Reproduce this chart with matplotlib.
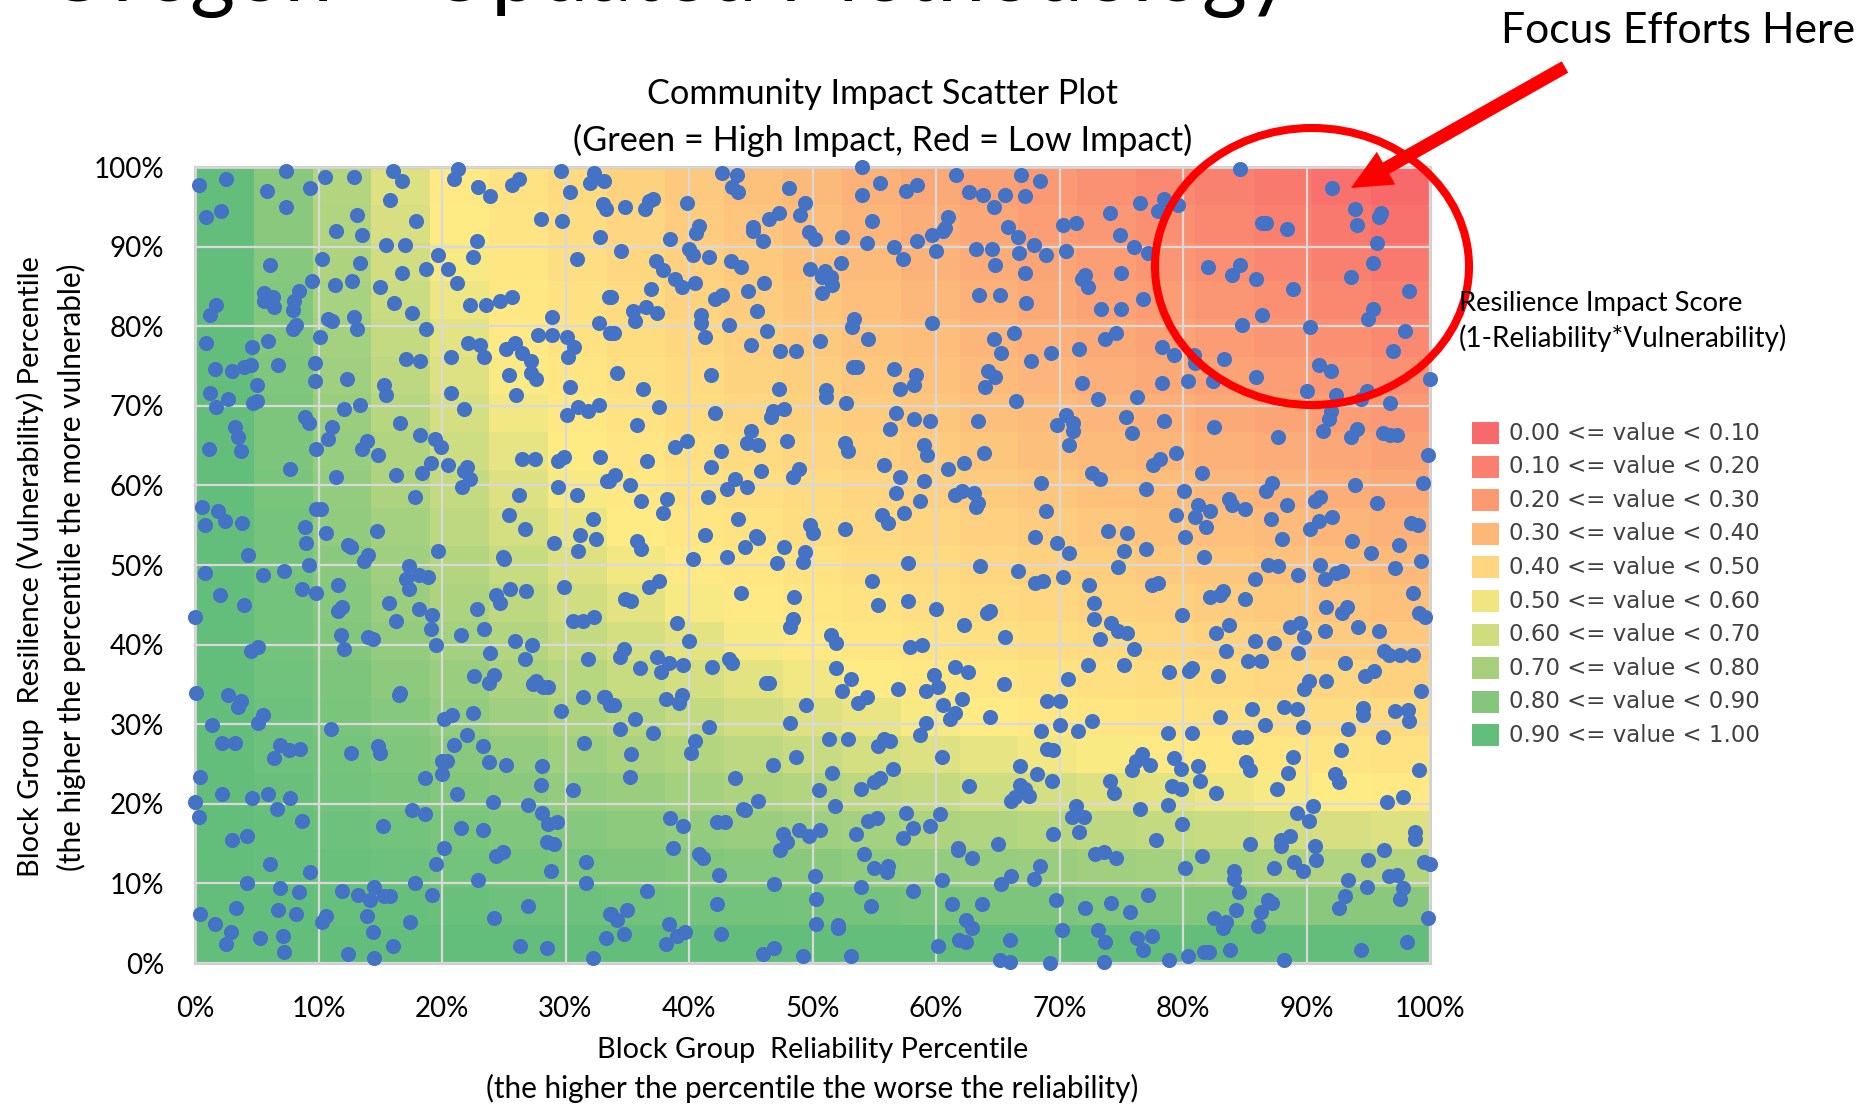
from matplotlib import pyplot as plt
from matplotlib.colors import LinearSegmentedColormap
from matplotlib.patches import Ellipse, Rectangle
from matplotlib.ticker import PercentFormatter
import numpy as np

plt.rcParams['font.family'] = ['Lato', 'DejaVu Sans']

# (reliability %, vulnerability %), by part of the plot
top_left = [
    (.3,97.8),(2.5,98.5),(7.4,99.5),(5.8,97),(9.3,97.3),(10.5,98.8),(12.9,98.8),(16,99.5),(16.8,98.3),(21.3,99.8),
    (21,98.5),(22.9,97.5),(23.9,96.3),(26.2,98.5),(25.7,97.8),(29.6,99.5),(32.3,99.3),(32,98),(33.1,98.3),(30.4,96.8),
    (33,95.3),(33.3,94.7),(.9,93.7),(2.1,94.5),(7.4,95),(15.8,95.8),(13.1,94),(17.9,93.2),(11.4,92),(13.5,91.5),
    (15.5,90.2),(17,90.2),(22.8,90.7),(28,93.5),(29.7,93.2),(32.8,91.2),(6.1,87.7),(10.3,88.4),(13.4,88),(19.7,88.9),
    (22.5,88.7),(30.9,88.4),(18.7,87.2),(20.5,87.2),(16.8,86.7),(9.5,85.7),(12.7,85.7),(11.3,85.2),(15,84.9),(21.2,85.4),
    (8.4,84.4),(5.6,84.2),(6.3,83.7),(8,83.2),(5.6,83.2),(6.4,82.4),(7.9,82),(1.7,82.7),(1.2,81.4),(16.1,82.9),
    (17.6,81.7),(22.3,82.7),(23.6,82.7),(24.7,83.2),(25.7,83.7),(33.5,83.7),(28.9,81.2),(32.7,80.4),(10.8,80.9),(11.1,80.7),
    (12.9,81.2),(13.1,79.7),(8.2,80.2),(7.9,79.7),(18.7,79.7),(10.1,78.7),(.9,77.9),(5.9,78.2),(4.6,77.4),(22.1,77.9),
    (23.1,77.6),(23.4,76.1),(20.7,76.1),(25.2,77.1),(25.9,77.9),(26.5,76.6),(27.2,75.6),(27.8,78.9),(28.9,78.9),(30.1,78.7),
    (30.7,77.4),(30.2,76.1),(33.6,79.2),(17.1,75.9),(18.2,75.6),(6.7,75.1),(9.7,75.4),(1.6,74.6),(3,74.4),(4,74.9),
    (4.5,75.1),(9.7,73.1),(12.3,73.4),(5,72.6),(15.3,72.6),(15.5,71.4),(25.4,73.9),(27.2,74.1),(27.6,73.4),(30.4,72.4),
    (20.7,71.6),(26,71.4),(1.2,71.6),(2.7,70.9),(5,70.6),(4.7,70.3),(1.7,69.9),(13.4,70.1),(12.1,69.6),(21.8,69.6),
    (31,69.9),(31.8,69.4),(32.7,70.1),(30.1,68.9),(8.9,68.6),(9.2,67.8),(3.2,67.3),(11.1,67.3),(16.6,67.8),(3.5,66.1),
    (18.2,66.3),(19.4,65.8),(10.8,65.8),(19.9,64.8),(13.9,65.6),(13.5,64.6),(9.8,64.6),(1.1,64.6),(3.7,64.3),(14.8,63.8),
    (19.1,62.8),(20.5,62.6),(18.4,61.6),(22,62.3),(21.8,61.8),(22.3,60.8),(21.6,59.8),(16.3,61.3),(11.4,61.1),(7.7,62.1),
    (26.5,63.3),(27.5,63.3),(29.4,63.1),(29.9,63.6),(32.8,63.6),(33.4,60.6),(29.4,59.8),(30.9,58.8),(26.2,58.8),(17.8,58.5),
    (.6,57.3),(1.9,56.8),(2.4,55.5),(.8,55),(3.8,55.3),(9.8,57),(10.2,57),(8.9,54.8),(10.6,54),(14.7,54.3),
    (9,52.8),(12.4,52.5),(12.6,52.3),(25.4,56.3),(26.7,54.5),(32.2,55.8),(31.2,53.8),(32.5,53.3),(29.1,52.8),(31,51.8),
    (19.7,51.8),(24.9,51),(25,50.8),(4.3,51.3),(14,51.3),(13.7,50.5),(9.2,50),(17.3,49.9),
]
bottom_left = [
    (.8,49),(5.5,48.7),(7.2,49.2),(17.1,48.2),(18.1,48.7),(18.9,48.5),(17.3,47),(8.7,47),(9.8,46.5),(11.6,47.5),
    (2,46.2),(4,45),(11.9,44.7),(11.6,44.2),(15.7,45.2),(18.1,44.5),(19.2,43.7),(16.3,43),(0,43.5),(24.4,46.2),
    (24.7,45.2),(25.5,47),(26.8,46.7),(29.9,47.2),(22.8,44.5),(23.4,42),(19.1,42),(21.5,41.2),(30.6,43),(31.4,43),
    (32.3,43.5),(11.8,41.2),(14,41),(14.4,40.7),(12.1,39.5),(5.1,39.7),(4.5,39.2),(19.5,40),(25.9,40.5),(27.3,40),
    (26.7,38.2),(23.9,39),(31.8,38.2),(22.6,36),(24.2,36.2),(23.8,35.2),(27.6,35.4),(27.4,35),(28.2,34.7),(28.6,34.7),
    (31.4,33.4),(33.1,33.4),(33.6,32.4),(.1,33.9),(2.7,33.7),(3.7,32.9),(3.5,32.2),(5.5,31.2),(5.1,30.2),(1.4,29.9),
    (16.6,33.9),(16.5,33.7),(20.8,31.2),(20.2,30.7),(22.5,31.4),(29.6,31.7),(11,29.4),(22,28.7),(21,27.4),(23.3,27.2),
    (31.5,27.7),(2.2,27.7),(3.2,27.7),(6.9,27.4),(7.6,26.7),(8.5,26.9),(6.4,25.7),(12.6,26.4),(14.8,27.2),(15,26.4),
    (20,25.4),(20.4,25.4),(23.8,25.2),(25.2,24.9),(28.1,24.7),(.4,23.4),(18.6,23.2),(20,23.7),(28,22.4),(30.6,21.7),
    (2.2,21.2),(4.6,20.7),(5.9,21.2),(7.7,20.7),(0,20.2),(6.6,19.4),(.3,18.4),(8.7,17.9),(21.2,21.2),(24.1,20.2),
    (27,19.9),(17.6,19.2),(18.6,18.7),(28.1,18.9),(29.3,17.7),(28.6,17.4),(15.2,17.2),(21.5,16.9),(23.3,16.7),(4.2,15.9),
    (3,15.4),(20.2,14.4),(28.5,15.2),(29.1,14.9),(24.9,13.9),(24.4,13.4),(6.1,12.4),(19.5,12.4),(31.7,12.7),(28.8,11.6),
    (9.3,11.4),(4.2,10.1),(17.8,10.1),(22.9,10.4),(31.7,10.1),(6.9,9.4),(8.4,8.9),(11.9,9.1),(13.2,8.6),(14.5,9.6),
    (14.2,7.9),(15.3,8.4),(15.8,8.4),(19.2,8.6),(3.3,6.9),(6.7,6.6),(8.2,6.1),(.4,6.1),(1.6,4.9),(10.6,5.9),
    (10.3,5.1),(13.9,5.9),(17.4,5.1),(24.2,5.6),(27,7.1),(33.6,6.1),(2.9,3.9),(2.5,2.4),(5.3,3.1),(7.1,3.4),
    (7.2,1.4),(14.4,3.9),(16,2.1),(12.4,1.1),(14.5,.6),(26.3,2.1),(28.5,1.9),(32.2,.6),(33.3,3.1),
]
top_mid = [
    (42.7,99.3),(43.9,99),(54,100),(55.5,98),(61.6,99),(66.9,99),(43.5,97.5),(44,96.8),(48.1,97.3),(58.5,97.8),
    (57.6,97),(54,96.5),(62.7,96.8),(63.8,96.5),(65.6,96.5),(64.7,95),(37.1,96),(36.8,95.7),(36.4,94.7),(34.8,95),
    (39.8,95.5),(49.4,95.5),(49,94),(47.3,94.2),(46.5,93.5),(61,93.7),(60.7,92.3),(60.6,92),(54.8,93.2),(40.8,92.6),
    (40.6,91.7),(45.2,92.4),(45.2,92),(38.5,91),(49.7,91.8),(50.2,91),(46,90.7),(52.4,91.2),(54.4,90.5),(58.5,90.7),
    (59.7,91.5),(56.6,90),(60,89.5),(65.8,92.5),(66.6,91.2),(63.2,89.7),(64.5,89.7),(66.7,89.2),(64.8,87.7),(67.2,86.7),
    (34.5,89.5),(40,89.7),(40.3,88.9),(41.6,88.7),(37.3,88.2),(37.9,87),(43.4,88.2),(44.2,87.5),(57.3,88.5),(52.3,88),
    (49.8,87.2),(51,86.9),(51.5,86.2),(50.8,86.2),(51.6,85.2),(50.8,84.2),(38.9,85.9),(39.4,84.9),(40.5,85.4),(46.1,85.4),
    (44.8,84.4),(36.9,84.7),(42.7,83.9),(42.1,83.4),(33.7,83.7),(63.5,83.9),(65.2,83.9),(67.3,82.9),(36.5,82.4),(35.5,81.9),
    (37.4,81.7),(45.5,81.9),(41,81.4),(41,80.4),(35.6,80.7),(43.2,80.2),(53.4,80.9),(53.2,79.9),(59.7,80.4),(33.9,79.2),
    (46.3,79.4),(41.3,78.7),(50.6,78.1),(54.5,78.4),(66.3,79.2),(64.7,78.4),(45,77.6),(47.4,76.9),(48.7,76.9),(65.3,76.6),
    (53.3,74.9),(53.6,74.9),(56.6,74.6),(58.4,73.9),(58.2,72.6),(57.1,72.1),(34.2,74.1),(41.8,73.9),(64.2,74.4),(64.8,73.6),
    (64,72.4),(36.3,72.1),(47.3,72.1),(51.1,72),(51.1,71.1),(52.7,70.4),(66.5,70.6),(37.6,69.9),(47.7,69.6),(46.8,69.3),
    (46.6,68.6),(42.1,69.1),(56.8,69.1),(58.2,68.3),(59.5,68.1),(56.3,67.1),(63.4,68.1),(35.8,67.6),(45,66.8),(44.7,65.3),
    (45.6,65.1),(47.9,65.6),(52.6,65.3),(52.9,64.3),(59,65.1),(59.3,63.8),(63.9,64.1),(39.8,65.6),(38.9,64.8),(42.6,64.3),
    (36.6,63.1),(41.8,62.3),(45.8,61.8),(48.9,62.1),(48.4,61.1),(55.8,62.6),(62.3,62.8),(61,62.1),(57.1,61.1),(59,60.6),
    (34,61.3),(33.5,60.6),(35.2,60),(43.7,60.8),(43.1,59.6),(44.7,59.8),(56.8,59),(62.1,59.3),(61.5,58.8),(63.1,59),
    (63.4,57.8),(63.2,57.3),(58.7,58),(36.1,58),(38.2,58.3),(41.5,58.5),(37.9,56.5),(55.6,56.3),(57.4,56.5),(56.1,55.3),
    (44,55.8),(49.8,55),(50,54),(52.6,54.5),(41.3,53.8),(35.8,53),(36.1,52),(45.4,53.6),(45.6,53.4),(44.5,52.3),
    (47.7,52.3),(49.4,51.6),(40.3,50.8),(43.1,51),(47.1,50.3),(49.2,50.4),(57.7,50.3),(63.6,49.9),(66.6,49.3),
]
bottom_mid = [
    (54.8,48),(37.6,48),(36.8,47.2),(44.2,46.5),(34.8,45.7),(35.3,45.5),(48.5,46),(55.3,45),(57.7,45.5),(60,44.5),
    (64.4,44.2),(64.1,44),(62.3,42.5),(48.4,43.2),(48.2,42.2),(39,42.7),(51.5,41.2),(51.9,40.2),(65.6,41),(40,40.5),
    (57.9,39.7),(58.9,40),(34.7,39.5),(34.4,38.5),(37.4,38.5),(38.4,37.7),(39.5,37.5),(37.7,36.5),(36,37),(41.9,37.2),
    (43.2,38.2),(43.5,37.7),(51.9,37),(61.5,37.2),(62.6,36.5),(59.8,36.2),(53.1,35.7),(46.2,35.2),(46.5,35.2),(65.5,35),
    (60.2,34.7),(59.2,34.2),(56.9,34.4),(52.4,34.2),(54.4,33.4),(53.7,32.7),(62.1,33.2),(60.6,32.4),(39.4,33.7),(39.2,32.7),
    (38.1,33.2),(33.2,33.4),(33.9,32.4),(49.5,32.4),(61.5,31.4),(61.1,30.7),(64.4,30.9),(35.6,30.7),(59.2,30.2),(34.4,29.4),
    (37.1,28.9),(41.6,29.7),(48.2,30.2),(40.5,27.9),(40.2,26.4),(51.3,28.2),(52.9,28.2),(55.8,28.2),(56.3,27.9),(55.3,27.2),
    (58.7,28.7),(35.3,26.2),(48.7,25.9),(46.8,24.9),(60.5,25.9),(66.8,24.7),(56.5,24.4),(51.6,23.9),(55.5,23.2),(55,22.7),
    (35.2,23.4),(43.7,23.2),(50.5,21.7),(53.9,21.9),(62.7,22.2),(66.8,22.4),(66.4,20.8),(66.1,20.4),(45.6,20.4),(44.4,19.4),
    (44.5,19.2),(51.8,19.7),(57.6,18.9),(60.3,18.7),(38.5,18.2),(39.5,17.2),(42.3,17.7),(42.9,17.7),(55.2,18.2),(54.5,17.9),
    (58.1,16.9),(59.5,17.2),(48.9,16.7),(50.6,16.7),(49.7,15.9),(47.6,16.2),(47.9,15.2),(53.5,16.2),(57.3,15.7),(47.4,14.2),
    (38.7,14.4),(40.8,13.7),(41.1,13.2),(54.2,13.7),(65,14.9),(61.8,14.4),(61.8,14.2),(62.9,13.2),(56.1,12.2),(55,11.9),
    (56,11.4),(42.4,11.1),(50.2,10.9),(66.1,10.9),(65.3,9.9),(46.9,9.9),(60.5,10.4),(53.9,9.6),(58.1,9.1),(36.6,9.1),
    (50.3,8.1),(42.3,7.4),(54.7,7.1),(61.3,7.4),(63.7,7.4),(35,6.6),(33.7,6.1),(34.2,5.4),(38.4,4.9),(50.3,4.9),
    (52.1,4.8),(52.1,4.4),(62.4,5.4),(62.9,4.4),(39.7,3.9),(39,3.4),(42.6,3.6),(34.7,3.6),(61.9,2.9),(62.4,2.6),
    (66,2.9),(38.1,2.4),(60.2,2.1),(46.9,1.9),(46,1.1),(49.2,.9),(53.1,.9),(65.2,.4),(66,.1),
]
top_right = [
    (68.4,98.3),(67.2,96.3),(76.5,95.5),(74.1,94.2),(70.3,92.7),(71.3,93),(78.5,96),(79.6,95.2),(78,94.5),(84.6,99.8),
    (92.1,97.3),(93.9,94.7),(96,94.2),(95.9,93.7),(94.1,92.7),(86.4,93),(86.7,93),(88.4,92.2),(74.9,91.5),(67.9,90.2),
    (76,90),(68.9,89),(70.5,89.5),(77.2,89.2),(95.7,90.5),(82,87.5),(84.6,87.7),(84,86.4),(85.9,85.9),(95.4,88),
    (93.6,86.2),(88.9,84.7),(72.1,86.4),(71.8,85.9),(72.3,84.9),(75,86.7),(76.8,83.4),(73.4,82.2),(75,82.2),(98.3,84.4),
    (95.4,82.2),(95,80.9),(86.4,81.4),(84.8,80.2),(90.3,79.9),(98,79.4),(74.6,79.2),(73.7,78.4),(71.6,77.1),(69.3,76.6),
    (67.7,75.6),(78.3,77.4),(79.3,76.4),(80.9,76.4),(81,75.4),(83.3,75.9),(97,76.9),(91,75.1),(92,74.4),(71.8,72.9),
    (78.3,72.9),(80.4,73.1),(82.4,73.1),(85.9,73.6),(100,73.4),(90,71.9),(73.1,70.9),(76.3,71.1),(92.4,71.4),(94.9,71.9),
    (94.4,70.9),(96.8,70.4),(70.5,68.9),(69.8,67.6),(71.1,67.9),(71.1,66.8),(70.8,65.1),(75.4,68.6),(75.9,66.6),(78.5,68.1),
    (82.5,67.3),(87.7,66.1),(92,69.4),(91.8,68.3),(91.3,66.8),(94.1,67.1),(93.6,66.1),(96.2,66.6),(96.8,66.3),(97.3,66.3),
    (99.8,63.8),(79.4,64.1),(78.1,63.3),(77.6,62.6),(72.6,61.6),(73.3,60.8),(81.5,61.6),(68.5,60.3),(77,59.6),(80.1,59.3),
    (87.2,60.3),(86.7,59.3),(93.9,60.1),(99.4,60.3),(83.7,58.3),(84,57.5),(85,57),(81.2,57.5),(82.2,56.8),(79.4,56.3),
    (81,56),(81.9,54.8),(68.9,56.8),(88.4,57.5),(91.1,58.5),(90.7,58),(95.7,57.8),(87.1,55.8),(92.1,56),(91,55.5),
    (90.3,54.5),(98.5,55.3),(99,55),(68,53.5),(69.8,52.8),(70.8,51.5),(73.9,54.3),(75.5,54),(75.2,51.8),(77,52),
    (80.2,53.5),(81.7,51),(88,53.3),(93.7,53),(97.5,52.5),(95.2,51.5),(99.3,50.5),(74.7,49.8),(86.9,50),(87.7,49.9),
    (91.1,50),(97.2,49.6),
]
bottom_right = [
    (89.3,48.7),(92.4,49),(92.9,49.2),(91.5,48.2),(68,47.7),(68.7,48),(70.3,48.5),(72.4,47.5),(77.5,47.5),(78,47.7),
    (85.8,48.2),(98.6,46.5),(83.2,46.7),(83,46.2),(82.2,46),(85,45.7),(72.8,45.2),(91.6,44.7),(93.3,44.7),(92.9,44),
    (72.8,43.2),(74.2,42.7),(79.9,43.7),(99.1,44),(99.6,43.5),(83.7,42.5),(82.7,41.5),(88.7,42.2),(89.5,42.7),(91.5,41.7),
    (94.2,42.2),(95.9,41.7),(74.7,41.7),(75.5,41.5),(89.8,41),(73.3,40.7),(85.8,40.5),(87.4,40.2),(76,39.5),(83.5,39.2),
    (89.3,39),(96.3,39.2),(96.7,38.7),(97.6,38.7),(98.6,38.7),(85.3,38),(86.3,38),(93.1,37.7),(72.3,37.5),(75.2,37.5),
    (80.7,37),(80.5,36.7),(78.9,36.5),(82.8,36),(95.5,36.7),(94.7,36),(70.7,35.7),(90.2,35.4),(91.6,35.4),(89.8,34.4),
    (99.3,34.2),(69,32.9),(70,32.9),(85.6,31.9),(88.2,32.2),(89.2,31.9),(94.6,32),(94.6,31.2),(97.2,31.7),(98.2,31.8),
    (98.3,30.4),(83,30.9),(72.6,30.4),(70,29.9),(86.6,29.9),(89.7,29.7),(68.5,29.2),(71.5,29.2),(78.8,28.9),(80.7,28.9),
    (93.4,29.4),(84.5,28.4),(85.1,28.4),(96.2,28.4),(69,26.9),(69.5,26.7),(92.8,26.7),(88.9,25.9),(76.7,26.2),(76.2,25.4),
    (79.3,25.7),(77.3,24.9),(79.8,24.4),(75.9,24.2),(81.2,24.7),(85.1,25.3),(85.4,24.2),(68.2,23.7),(69.4,22.9),(88.5,23.9),
    (92.3,23.7),(92.6,22.7),(99.1,24.2),(74.1,22.9),(81.4,22.9),(67.2,21.8),(67.5,21),(74.4,21.4),(79.1,22.2),(79.8,21.9),
    (82.7,21.4),(87.6,21.9),(97.8,20.9),(96.5,20.2),(78.8,19.9),(71.3,19.7),(90.5,19.7),(76.5,19.4),(89.2,18.9),(71,18.4),
    (72,18.4),(90.2,17.9),(79.9,17.4),(69.5,16.2),(71.6,16.4),(98.8,16.5),(98.8,15.6),(87.9,15.4),(88.7,15.9),(87.9,14.7),
    (77.8,15.4),(85.4,14.9),(90.7,14.7),(96.3,14.2),(72.9,13.7),(73.6,13.9),(74.6,13.2),(81.5,13.4),(90.8,12.9),(89,12.7),
    (95,12.9),(99.5,12.7),(100,12.4),(68.4,12.2),(80.2,11.9),(87.4,11.9),(89.7,11.6),(84.1,11.5),(84.1,10.6),(97.3,11.1),
    (96.7,10.9),(67.9,10.6),(93.4,10.4),(94.9,9.6),(97.8,9.4),(84.5,8.9),(77.2,8.6),(69.7,7.9),(93.1,8.4),(97.6,8.1),
    (86.9,7.9),(87.2,7.6),(74.2,7.6),(72.1,6.9),(92.6,6.9),(84.3,6.6),(75.7,6.4),(86.3,6.4),(82.5,5.6),(83.5,5.1),
    (99.8,5.6),(86.1,4.6),(83.2,4.4),(70.2,4.1),(73.1,4.1),(77.5,3.4),(76.3,3.1),(73.7,2.6),(98.1,2.6),(76.8,1.6),
    (94.4,1.6),(83.8,1.6),(81.7,1.4),(82.1,1.4),(80.4,.9),(78.9,.4),(88.2,.4),(69.2,0),(73.6,.1),
]

# background score per cell, bottom row first
score_rows = [
    [1]*21,
    [1,.998,.995,.993,.99,.988,.985,.983,.98,.978,.975,.973,.97,.968,.965,.963,.96,.958,.955,.953,.95],
    [1,.995,.99,.985,.98,.975,.97,.965,.96,.955,.95,.945,.94,.935,.93,.925,.92,.915,.91,.905,.9],
    [1,.993,.985,.978,.97,.963,.955,.948,.94,.933,.925,.918,.91,.903,.895,.888,.88,.873,.865,.858,.85],
    [1,.99,.98,.97,.96,.95,.94,.93,.92,.91,.9,.89,.88,.87,.86,.85,.84,.83,.82,.81,.8],
    [1,.988,.975,.963,.95,.938,.925,.913,.9,.888,.875,.863,.85,.838,.825,.813,.8,.788,.775,.763,.75],
    [1,.985,.97,.955,.94,.925,.91,.895,.88,.865,.85,.835,.82,.805,.79,.775,.76,.745,.73,.715,.7],
    [1,.983,.965,.948,.93,.913,.895,.878,.86,.843,.825,.808,.79,.773,.755,.738,.72,.703,.685,.668,.65],
    [1,.98,.96,.94,.92,.9,.88,.86,.84,.82,.8,.78,.76,.74,.72,.7,.68,.66,.64,.62,.6],
    [1,.978,.955,.933,.91,.888,.865,.843,.82,.798,.775,.753,.73,.708,.685,.663,.64,.618,.595,.573,.55],
    [1,.975,.95,.925,.9,.875,.85,.825,.8,.775,.75,.725,.7,.675,.65,.625,.6,.575,.55,.525,.5],
    [1,.973,.945,.918,.89,.863,.835,.808,.78,.753,.725,.698,.67,.643,.615,.588,.56,.533,.505,.478,.45],
    [1,.97,.94,.91,.88,.85,.82,.79,.76,.73,.7,.67,.64,.61,.58,.55,.52,.49,.46,.43,.4],
    [1,.968,.935,.903,.87,.838,.805,.773,.74,.708,.675,.643,.61,.578,.545,.513,.48,.448,.415,.383,.35],
    [1,.965,.93,.895,.86,.825,.79,.755,.72,.685,.65,.615,.58,.545,.51,.475,.44,.405,.37,.335,.3],
    [1,.963,.925,.888,.85,.813,.775,.738,.7,.663,.625,.588,.55,.513,.475,.438,.4,.363,.325,.288,.25],
    [1,.96,.92,.88,.84,.8,.76,.72,.68,.64,.6,.56,.52,.48,.44,.4,.36,.32,.28,.24,.2],
    [1,.958,.915,.873,.83,.788,.745,.703,.66,.618,.575,.533,.49,.448,.405,.363,.32,.278,.235,.193,.15],
    [1,.955,.91,.865,.82,.775,.73,.685,.64,.595,.55,.505,.46,.415,.37,.325,.28,.235,.19,.145,.1],
    [1,.953,.905,.858,.81,.763,.715,.668,.62,.573,.525,.478,.43,.383,.335,.288,.24,.193,.145,.098,.05],
    [1,.95,.9,.85,.8,.75,.7,.65,.6,.55,.5,.45,.4,.35,.3,.25,.2,.15,.1,.05,0],
]

legend_labels = ['0.00 <= value < 0.10', '0.10 <= value < 0.20', '0.20 <= value < 0.30', '0.30 <= value < 0.40',
                 '0.40 <= value < 0.50', '0.50 <= value < 0.60', '0.60 <= value < 0.70', '0.70 <= value < 0.80',
                 '0.80 <= value < 0.90', '0.90 <= value < 1.00']
legend_colors = ['#F8696B', '#FA7F6F', '#FB9A70', '#FDB877', '#FFD67F',
                 '#F0E581', '#CFDD7E', '#A8D07C', '#86C67C', '#63BE7B']

W, H = 1873, 1105
fig = plt.figure(figsize=(W / 100, H / 100), dpi=100)
ax = fig.add_axes([195 / W, 1 - 963 / H, (1430 - 195) / W, (963 - 167) / H])

cmap = LinearSegmentedColormap.from_list(
    'score', [(0, '#F8696B'), (0.81, '#FFEB84'), (1, '#63BE7B')])
edges = np.linspace(0, 100, 22)
ax.pcolormesh(edges, edges, np.array(score_rows), cmap=cmap, vmin=0, vmax=1, zorder=1)

ax.set_xlim(0, 100)
ax.set_ylim(0, 100)
ax.set_xticks(range(0, 101, 10))
ax.set_yticks(range(0, 101, 10))
ax.xaxis.set_major_formatter(PercentFormatter(100, decimals=0))
ax.yaxis.set_major_formatter(PercentFormatter(100, decimals=0))
ax.tick_params(length=0, labelsize=20)
ax.tick_params(axis='x', pad=24)
ax.tick_params(axis='y', pad=22)
ax.grid(True, color='#D9D9D9', linewidth=1.6, zorder=2)
ax.set_axisbelow(False)
for side in ax.spines:
    ax.spines[side].set_color('#D0D0D0')
    ax.spines[side].set_linewidth(2.2)

points = np.array(top_left + bottom_left + top_mid + bottom_mid + top_right + bottom_right)
ax.scatter(points[:, 0], points[:, 1], s=118, color='#4472C4', linewidths=0, clip_on=False, zorder=3)

# everything around the plot is placed in picture pixels
over = fig.add_axes([0, 0, 1, 1], facecolor='none')
over.set_xlim(0, W)
over.set_ylim(H, 0)
over.axis('off')

over.text(883, 94, 'Community Impact Scatter Plot', fontsize=24.7, ha='center', va='center')
over.text(883, 140, '(Green = High Impact, Red = Low Impact)', fontsize=24.7, ha='center', va='center')
over.text(813, 1050, 'Block Group  Reliability Percentile', fontsize=20.8, ha='center', va='center')
over.text(812, 1088, '(the higher the percentile the worse the reliability)', fontsize=21.4, ha='center', va='center')
over.text(30, 567, 'Block Group  Resilience (Vulnerability) Percentile', fontsize=20.9,
          rotation=90, ha='center', va='center')
over.text(71, 567, '(the higher the percentile the more vulnerable)', fontsize=21.4,
          rotation=90, ha='center', va='center')

over.text(1459, 304, 'Resilience Impact Score', fontsize=19.7, ha='left', va='center')
over.text(1459, 338, '(1-Reliability*Vulnerability)', fontsize=20.1, ha='left', va='center')

for i in range(len(legend_labels)):
    y = 433 + i * 33.6
    over.add_patch(Rectangle((1472, y - 11), 27, 22, facecolor=legend_colors[i], edgecolor='none'))
    over.text(1509, y, legend_labels[i], family='DejaVu Sans', fontsize=16.5, color='#404040',
              ha='left', va='center')

over.text(43, 1, 'Oregon \u2013 Updated Methodology', fontsize=62.5, ha='left', va='baseline', clip_on=True)
over.text(1501, 31, 'Focus Efforts Here', fontsize=30.8, ha='left', va='center')

over.add_patch(Ellipse((1312, 266.5), 314, 277, fill=False, edgecolor='#FF0000', linewidth=5.8))
over.annotate('', xy=(1351, 188), xytext=(1565, 67),
              arrowprops=dict(facecolor='#FF0000', edgecolor='none', width=9.4, headwidth=27, headlength=29, shrink=0))

fig.savefig('out.png', dpi=100)
